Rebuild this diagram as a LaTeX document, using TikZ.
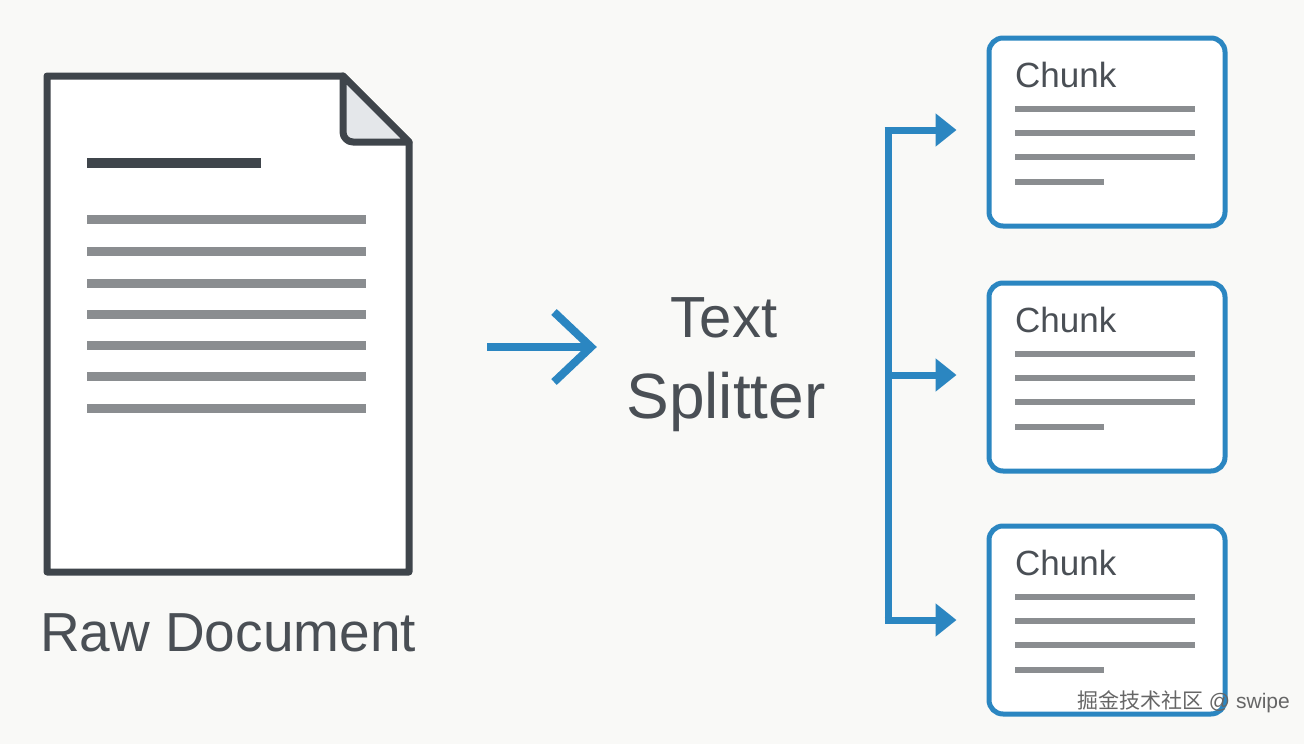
\documentclass[tikz,border=0pt]{standalone}
\usepackage{fontspec}
\setmainfont{Liberation Sans}
\newfontfamily\cjk{Noto Sans CJK SC}
\usetikzlibrary{arrows.meta,calc}
\definecolor{bgc}{HTML}{F9F9F7}
\definecolor{docgray}{HTML}{3F454B}
\definecolor{linegray}{HTML}{8A8D90}
\definecolor{foldfill}{HTML}{E4E7EA}
\definecolor{accent}{HTML}{2B86C1}
\definecolor{textgray}{HTML}{4A4F55}
\definecolor{wmgray}{HTML}{666666}
\begin{document}
\begin{tikzpicture}[x=1pt,y=-1pt,
  docline/.style={linegray,line width=9pt},
  chline/.style={linegray,line width=6pt},
  chunkbox/.style={draw=accent,line width=5pt,rounded corners=14pt,fill=white,
    minimum width=236pt,minimum height=188pt,inner sep=0pt},
  chunklabel/.style={font=\fontsize{35}{40}\selectfont,text=textgray,anchor=base west,inner sep=0pt},
  branch/.style={accent,line width=7pt},
  branchtip/.style={accent,line width=7pt,shorten >=30pt,-{Triangle[length=21pt,width=32pt]}}]
\fill[bgc] (0,0) rectangle (1304,744);
\useasboundingbox (0,0) rectangle (1304,744);

% raw document
\draw[docgray,line width=7pt,line join=round,fill=white]
  (47,76) -- (343,76) -- (409,142) -- (409,572) -- (47,572) -- cycle;
\draw[docgray,line width=7pt,line join=round,fill=foldfill]
  (343,76) [rounded corners=10pt]-- (343,142) [sharp corners]-- (409,142) -- cycle;
\draw[docgray,line width=10pt] (87,163) -- (261,163);
\foreach \y in {219,251,283,314,345,376,408}
  \draw[docline] (87,\y) -- (366,\y);
\node[font=\fontsize{55}{60}\selectfont,text=textgray,anchor=base,inner sep=0pt]
  (rawlabel) at (228,651) {Raw Document};

% splitter
\node[text=textgray,inner sep=0pt,anchor=base] (splitA) at (724,337)
  {\fontsize{58}{60}\selectfont Text};
\node[text=textgray,inner sep=0pt,anchor=base] (split) at (726,418)
  {\fontsize{64}{66}\selectfont Splitter};
\coordinate (arrS) at (487,347);
\coordinate (arrE) at (591,347);
\draw[accent,line width=8pt] (arrS) -- (arrE);
\draw[accent,line width=8pt,line join=miter] ($(arrE)+(-37,-35)$) -- (arrE) -- ($(arrE)+(-37,35)$);

% chunks
\node[chunkbox] (c1) at (1107,132) {};
\node[chunkbox] (c2) at (1107,377) {};
\node[chunkbox] (c3) at (1107,620) {};
\foreach \c/\oy in {c1/0,c2/245,c3/488}{
  \node[chunklabel] at ($(1015,87)+(0,\oy)$) {Chunk};
  \draw[chline] ($(1015,109)+(0,\oy)$) -- ($(1195,109)+(0,\oy)$);
  \draw[chline] ($(1015,133)+(0,\oy)$) -- ($(1195,133)+(0,\oy)$);
  \draw[chline] ($(1015,157)+(0,\oy)$) -- ($(1195,157)+(0,\oy)$);
  \draw[chline] ($(1015,182)+(0,\oy)$) -- ($(1104,182)+(0,\oy)$);
}

% branches
\coordinate (bTop) at (888,130);
\coordinate (bMid) at (888,375);
\coordinate (bBot) at (888,620);
\draw[branch] (bTop) -- (bBot);
\draw[branch] ($(bTop)+(-3.5,0)$) -- (bTop);
\draw[branch] ($(bBot)+(-3.5,0)$) -- (bBot);
\draw[branchtip] (bTop) -- (c1.west |- bTop);
\draw[branchtip] (bMid) -- (c2.west |- bMid);
\draw[branchtip] (bBot) -- (c3.west |- bBot);

% watermark
\node[font=\fontsize{21}{23}\selectfont,text=wmgray,anchor=base east,inner sep=0pt]
  (wm) at (1290,708) {{\cjk 掘金技术社区} @ swipe};
\end{tikzpicture}
\end{document}
